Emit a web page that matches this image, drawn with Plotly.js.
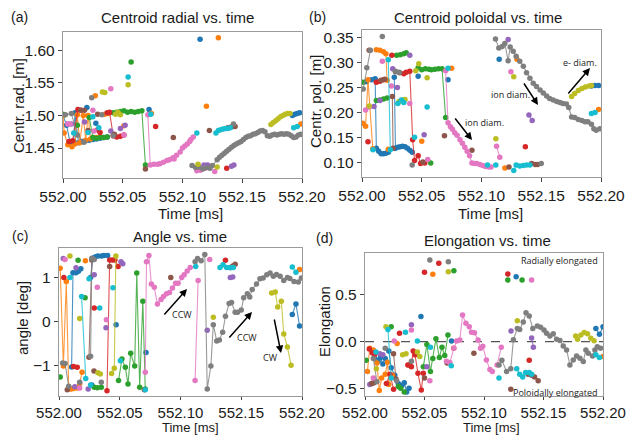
<!DOCTYPE html>
<html><head><meta charset="utf-8">
<script src="https://cdn.plot.ly/plotly-3.0.1.min.js"></script>
<style>html,body{margin:0;padding:0;background:#fff}#chart{width:634px;height:436px}</style>
</head><body><div id="chart"></div>
<script>
// ---------- Tick labels ----------
const xTickVals = [552.00, 552.05, 552.10, 552.15, 552.20];
const xTickText = ['552.00', '552.05', '552.10', '552.15', '552.20'];
const radTickVals = [1.45, 1.50, 1.55, 1.60];
const radTickText = ['1.45', '1.50', '1.55', '1.60'];
const polTickVals = [0.10, 0.15, 0.20, 0.25, 0.30, 0.35];
const polTickText = ['0.10', '0.15', '0.20', '0.25', '0.30', '0.35'];
const angTickVals = [-1, 0, 1];
const angTickText = ['\u22121', '0', '1'];
const eloTickVals = [-0.5, 0, 0.5];
const eloTickText = ['\u22120.5', '0.0', '0.5'];

// ---------- (a) Centroid radial ----------
const radBlueT = [552.000,552.003,552.006,552.009,552.010,552.013,552.016,552.019,552.022,552.025,552.028,552.031,552.034,552.037,null,552.020,null,552.0275,null,552.072,null,552.1147,null,552.192,552.194,552.196,552.198];
const radBlueV = [1.500,1.485,1.458,1.460,1.504,1.458,1.460,1.461,1.462,1.463,1.464,1.465,1.466,1.467,null,1.512,null,1.488,null,1.509,null,1.617,null,1.500,1.502,1.503,1.504];
const radOrangeT = [552.000,552.001,552.004,552.0075,552.010,552.012,552.014,552.017,552.019,552.021,552.023,552.025,552.028,552.031,null,552.027,null,552.035,552.038,null,552.051,null,552.074,null,552.120,null,552.130,null,552.199];
const radOrangeV = [1.500,1.473,1.455,1.452,1.456,1.501,1.458,1.500,1.462,1.500,1.464,1.466,1.466,1.467,null,1.530,null,1.502,1.503,null,1.484,null,1.503,null,1.514,null,1.619,null,1.487];
const radGreenT = [552.000,null,552.012,null,552.022,552.025,552.028,552.031,552.034,552.037,null,552.057,null,552.042,552.045,552.048,552.051,552.054,552.057,552.060,552.063,552.066,552.069];
const radGreenV = [1.502,null,1.485,null,1.497,1.466,1.465,1.466,1.466,1.467,null,1.582,null,1.504,1.505,1.506,1.507,1.505,1.506,1.505,1.506,1.507,1.424];
const radRedT = [552.005,552.008,552.0125,552.015,null,552.029,552.031,null,552.037,552.039,552.042,552.045,552.048,552.051,null,552.0775,null,552.137];
const radRedV = [1.460,1.461,1.509,1.508,null,1.478,1.474,null,1.504,1.505,1.469,1.467,1.468,1.470,null,1.483,null,1.419];
const radPurpleT = [552.004,552.007,null,552.018,null,552.040,null,552.048,552.052,null,552.118,552.121,null,552.141,552.143];
const radPurpleV = [1.487,1.487,null,1.490,null,1.476,null,1.480,1.485,null,1.424,1.424,null,1.422,1.424];
const radBrownT = [552.015,552.018,null,552.021,null,552.029,null,552.043,null,552.069,null,552.0923,null,552.1225,null,552.138,552.140,552.142,552.144];
const radBrownV = [1.508,1.508,null,1.477,null,1.502,null,1.471,null,1.418,null,1.466,null,1.477,null,1.481,1.482,1.483,1.483];
const radPinkT = [552.004,552.006,null,552.025,null,552.026,null,552.040,null,552.051,null,552.071,552.073,552.076,552.079,552.081,552.084,552.087,552.089,552.092,552.093,552.095,552.098,552.100,552.102,552.104,552.106,552.107,552.109,null,552.112,552.115,null,552.119,null,552.127];
const radPinkV = [1.487,1.487,null,1.508,null,1.476,null,1.541,null,1.470,null,1.501,1.424,1.425,1.425,1.426,1.428,1.431,1.432,1.435,1.433,1.439,1.444,1.450,1.453,1.456,1.460,1.463,1.467,null,1.415,1.416,null,1.419,null,1.414];
const radGrayT = [552.002,552.007,552.012,552.0175,null,552.024,null,552.0325,null,552.042,null,552.108,552.111,552.114,552.117,552.120,552.123,552.125,552.129,552.131,552.133,552.135,552.137,552.139,552.141,552.143,552.145,552.147,552.149,552.151,552.153,552.155,552.157,552.159,552.161,552.163,552.165,552.167,552.169,552.171,552.173,552.175,552.177,552.179,552.181,552.183,552.185,552.187,552.189,552.191,552.193,552.195,552.197,552.199,null,552.1427];
const radGrayV = [1.501,1.503,1.470,1.459,null,1.527,null,1.501,null,1.469,null,1.423,1.420,1.421,1.418,1.420,1.419,1.423,1.432,1.436,1.439,1.442,1.445,1.448,1.451,1.454,1.456,1.458,1.460,1.463,1.466,1.468,1.469,1.471,1.472,1.474,1.476,1.477,1.475,1.469,1.468,1.470,1.471,1.470,1.471,1.472,1.471,1.472,1.471,1.469,1.466,1.467,1.470,1.471,null,1.487];
const radOliveT = [552.033,552.035,null,552.0545,null,552.044,552.046,552.048,null,552.113,null,552.129,null,552.174,552.176,552.178,552.180,552.182,552.184,552.186,552.188,552.190];
const radOliveV = [1.536,1.535,null,1.547,null,1.502,1.505,1.501,null,1.425,null,1.421,null,1.486,1.489,1.492,1.495,1.498,1.500,1.502,1.503,1.503];
const radCyanT = [552.009,null,552.021,null,552.025,null,552.030,null,552.0545,null,552.0735,null,552.112,null,552.128,552.130,552.132,552.134,552.136,552.138,552.140,null,552.193,552.196];
const radCyanV = [1.473,null,1.474,null,1.498,null,1.481,null,1.559,null,1.502,null,1.473,null,1.473,1.477,1.478,1.479,1.480,1.480,1.481,null,1.481,1.483];

// ---------- (b) Centroid poloidal ----------
const polBlueT = [552.0036,552.008,552.011,552.012,552.014,552.016,552.018,552.020,552.022,null,552.027,552.028,552.030,552.032,552.034,552.036,552.038,552.040,552.042,null,552.047,null,552.072,null,552.1148,null,552.192,552.195,552.198];
const polBlueV = [0.262,0.266,0.268,0.128,0.122,0.117,0.117,0.118,0.120,null,0.271,0.128,0.130,0.131,0.132,0.131,0.128,0.124,0.120,null,0.273,null,0.266,null,0.307,null,0.253,0.254,0.254];
const polOrangeT = [552.0006,552.003,552.005,552.009,null,552.012,552.015,552.018,552.020,552.021,null,552.022,null,552.050,null,552.075,null,552.1196,null,552.1296,null,552.198];
const polOrangeV = [0.178,0.172,0.266,0.127,null,0.326,0.325,0.322,0.318,0.265,null,0.126,null,0.142,null,0.289,null,0.088,null,0.307,null,0.206];
const polGreenT = [552.0006,null,552.012,552.015,552.018,552.021,null,552.029,552.032,552.035,552.037,null,552.047,552.050,552.053,552.056,552.058,552.061,552.064,552.067,552.070,null,552.0575];
const polGreenV = [0.261,null,0.224,0.225,0.227,0.229,null,0.315,0.316,0.318,0.320,null,0.290,0.286,0.288,0.287,0.286,0.287,0.288,0.288,0.190,null,0.098];
const polRedT = [552.005,null,552.012,552.015,552.018,null,552.025,null,552.035,552.037,552.040,552.0424,552.044,552.047,552.049,552.0525,null,552.1367];
const polRedV = [0.141,null,0.261,0.263,0.266,null,0.315,null,0.278,0.281,0.283,0.145,0.103,0.113,0.097,0.098,null,0.131];
const polPurpleT = [552.010,null,552.015,null,552.0257,null,552.0296,null,552.040,null,552.052,null,552.1223,null,552.1397,552.1424];
const polPurpleV = [0.212,null,0.224,null,0.288,null,0.250,null,0.315,null,0.155,null,0.347,null,0.195,0.184];
const polBrownT = [552.006,null,552.016,552.019,null,552.0254,552.026,null,552.028,552.0316,null,552.051,null,552.069,null,552.092,null,552.123,null,552.142,552.145,552.147];
const polBrownV = [0.325,null,0.265,0.267,null,0.232,0.128,null,0.282,0.280,null,0.100,null,0.153,null,0.124,null,0.090,null,0.097,0.095,0.095];
const polPinkT = [552.003,552.006,null,552.017,null,552.0246,null,552.040,null,552.055,null,552.070,552.072,552.074,552.0757,552.0776,552.0796,552.082,552.084,552.086,552.088,552.090,552.092,552.094,552.096,552.0986,552.101,552.1033,552.106,552.108,null,552.1126,552.1153,null,552.1246];
const polPinkV = [0.205,0.211,null,0.303,null,0.253,null,0.218,null,0.105,null,0.284,0.179,0.171,0.166,0.159,0.154,0.145,0.138,0.130,0.122,0.113,0.098,0.097,0.097,0.095,0.093,0.091,0.090,0.090,null,0.132,0.110,null,0.282];
const polGrayT = [552.001,552.004,552.007,null,552.017,null,552.028,552.031,null,552.042,null,552.1117,552.1145,552.1173,552.1195,552.1223,552.124,552.1265,552.129,552.132,552.135,552.1377,552.1405,552.1433,552.146,552.149,552.1517,552.1545,552.157,552.160,552.163,552.1656,552.168,552.171,552.173,552.1754,552.178,552.181,552.184,552.1866,552.189,552.192,552.194,552.196,552.199,null,552.150];
const polGrayV = [0.247,0.290,0.325,null,0.353,null,0.283,0.281,null,0.094,null,0.348,0.330,0.333,0.339,0.304,0.332,0.323,0.313,0.303,0.293,0.280,0.269,0.259,0.252,0.245,0.239,0.233,0.228,0.225,0.222,0.220,0.218,0.217,0.210,0.191,0.190,0.186,0.184,0.181,0.181,0.176,0.167,0.164,0.167,null,0.097];
const polOliveT = [552.006,null,552.031,552.034,552.036,null,552.045,null,552.0475,null,552.0545,null,552.112,null,552.127,null,552.1754,552.178,552.181,552.184,552.187,552.190,552.192];
const polOliveV = [0.213,null,0.222,0.225,0.226,null,0.284,null,0.298,null,0.270,null,0.147,null,0.272,null,0.232,0.238,0.244,0.248,0.251,0.253,0.254];
const polCyanT = [552.0092,null,552.022,552.0237,null,552.030,552.033,552.035,null,552.044,null,552.0545,null,552.072,null,552.105,null,552.112,null,552.127,552.129,552.132,552.135,552.1377,552.1405,null,552.192,552.195];
const polCyanV = [0.125,null,0.306,0.125,null,0.218,0.225,0.220,null,0.150,null,0.211,null,0.289,null,0.094,null,0.094,null,0.083,0.094,0.092,0.093,0.094,0.094,null,0.198,0.200];

// ---------- (c) Angle ----------
const angBlueT = [552.0104,552.0115,552.014,552.016,552.018,null,552.026,552.028,552.030,552.032,552.035,552.037,552.040,null,552.027,null,552.047,null,552.0716,null,552.192,552.195,552.198];
const angBlueV = [-1.04,1.10,1.10,1.13,1.19,null,0.99,1.43,1.46,1.48,1.48,1.49,1.49,null,-1.45,null,-0.08,null,-0.71,null,0.15,0.39,-0.11];
const angOrangeT = [552.001,552.0036,552.006,552.008,552.010,552.012,552.015,552.017,552.019,null,552.0217,null,552.198];
const angOrangeV = [1.20,-1.02,0.90,-1.54,-1.54,-1.53,-1.52,-1.42,-1.16,null,1.37,null,1.17];
const angGreenT = [552.001,null,552.0157,null,552.0215,null,552.029,552.0315,552.0348,null,552.049,552.0518,552.0546,552.0568,552.059,552.0623,552.064,552.0664,552.069,552.071];
const angGreenV = [-1.27,null,1.38,null,0.53,null,-1.50,-1.51,-1.50,null,-1.35,-0.86,-1.05,-1.43,-0.73,-1.02,1.09,-1.50,0.45,-1.54];
const angRedT = [552.004,null,552.012,552.015,null,552.029,null,552.0395,552.0417,552.044,552.046,552.0486,null,552.137];
const angRedV = [0.99,null,-1.03,-1.05,null,0.30,null,-1.58,1.39,1.39,1.39,1.24,null,1.38];
const angPurpleT = [552.0035,null,552.014,null,552.013,null,552.024,null,552.029,null,552.0387,null,552.051,552.0525,null,552.122,null,552.141,552.143];
const angPurpleV = [1.42,null,1.21,null,-1.49,null,-1.54,null,1.05,null,-0.15,null,1.35,1.30,null,-0.21,null,0.99,1.00];
const angBrownT = [552.0068,null,552.0247,552.027,null,552.0288,null,552.0417,null,552.0703,null,552.092,null,552.141,552.143,552.145];
const angBrownV = [-1.56,null,-0.82,1.39,null,-1.13,null,1.24,null,-1.56,null,0.99,null,1.22,1.25,1.29];
const angPinkT = [552.005,null,552.017,null,552.0315,null,552.039,null,552.071,552.072,552.074,552.076,552.0784,552.081,552.084,552.086,552.0885,552.091,552.0934,552.096,552.098,552.101,552.103,552.1055,552.108,null,552.112,552.1145,null,552.124];
const angPinkV = [1.40,null,-1.52,null,0.77,null,0.03,null,-1.16,1.35,1.49,0.84,0.77,0.39,0.49,0.56,0.62,0.65,0.75,0.86,0.86,0.99,1.05,1.14,1.22,null,-1.35,0.92,null,1.40];
const angGrayT = [552.003,552.005,552.008,null,552.017,null,552.026,552.027,552.029,null,552.0348,null,552.112,552.114,552.117,552.120,552.122,552.125,552.127,552.1298,552.132,552.1347,552.137,552.140,552.142,552.145,552.147,552.150,552.152,552.155,552.157,552.159,552.1625,552.1654,552.168,552.171,552.1737,552.1764,552.179,552.182,552.185,552.188,552.190,552.1934,552.197,552.1995];
const angGrayV = [-0.95,-0.96,-1.48,null,-1.39,null,-0.80,1.43,1.40,null,-1.39,null,1.35,1.42,1.37,1.51,-1.54,-1.02,-0.08,-0.45,-0.43,-0.25,0.11,0.40,0.42,0.20,0.20,0.25,0.53,0.62,0.55,0.72,0.84,0.96,0.98,1.05,1.09,1.02,1.06,1.02,0.92,0.99,0.97,0.90,0.89,0.98];
const angOliveT = [552.009,null,552.017,null,552.032,552.034,null,552.0433,552.0455,552.0468,null,552.127,null,552.175,552.178,552.180,552.183,552.185,552.188,552.191];
const angOliveV = [1.48,null,0.06,null,-1.17,-1.20,null,-1.19,-1.07,1.48,null,0.09,null,0.64,0.66,0.32,0.45,-0.29,-0.59,-1.00];
const angCyanT = [552.009,null,552.0186,552.022,null,552.0247,null,552.026,null,552.0335,null,552.0444,null,552.0505,null,552.071,null,552.1125,null,552.1325,552.135,552.138,552.141,552.1435,null,552.192,552.195];
const angCyanV = [0.99,null,0.56,-1.30,null,0.96,null,-1.45,null,0.30,null,0.76,null,-0.90,null,-1.56,null,1.24,null,1.22,1.28,1.22,1.21,1.22,null,1.23,1.11];

// ---------- (d) Elongation ----------
const eloBlueT = [552.008,552.010,552.011,552.013,552.015,552.017,null,552.020,552.022,552.025,552.028,552.031,552.033,552.035,552.037,null,552.047,null,552.0727,null,552.127,null,552.194,552.197,552.200];
const eloBlueV = [-0.18,-0.20,-0.21,-0.17,-0.24,-0.18,null,-0.10,-0.28,-0.36,-0.45,-0.47,-0.44,-0.54,-0.50,null,0.268,null,0.007,null,0.696,null,0.14,0.08,0.16];
const eloOrangeT = [552.002,552.004,552.007,552.010,552.012,552.014,552.017,552.019,552.020,552.023,null,552.027,null,552.057,null,552.0745,null,552.200];
const eloOrangeV = [-0.32,-0.07,-0.09,-0.23,-0.525,-0.39,-0.35,-0.22,-0.46,-0.36,null,-0.02,null,0.721,null,-0.07,null,-0.16];
const eloGreenT = [552.001,null,552.022,null,552.028,552.030,552.033,null,552.037,null,552.049,552.052,552.055,552.057,552.0596,552.0625,552.0647,552.067,552.0697,null,552.0747,null,552.120,null,552.132];
const eloGreenV = [-0.20,null,0.16,null,-0.48,-0.50,-0.54,null,-0.25,null,-0.27,-0.03,-0.32,-0.18,0.03,-0.17,-0.06,-0.15,0.07,null,0.761,null,0.66,null,0.66];
const eloRedT = [552.0036,552.006,552.008,null,552.018,552.021,552.024,null,552.029,null,552.036,552.039,552.0405,552.042,552.0445,552.0473,552.049,null,552.050,null,552.062,null,552.120,null,552.138];
const eloRedV = [-0.08,-0.12,-0.14,null,-0.45,-0.35,-0.51,null,0.09,null,-0.25,-0.27,-0.10,-0.14,-0.34,-0.52,-0.34,null,0.743,null,0.839,null,0.725,null,-0.20];
const eloPurpleT = [552.004,552.006,null,552.0125,552.015,null,552.039,null,552.052,null,552.1227,null,552.140,552.1415];
const eloPurpleV = [-0.46,-0.45,null,-0.13,-0.14,null,0.18,null,-0.27,null,0.115,null,0.04,-0.06];
const eloBrownT = [552.0056,552.0075,null,552.024,552.026,null,552.050,null,552.069,null,552.0915,null,552.1225,null,552.137,552.140,552.1425,552.1455];
const eloBrownV = [-0.45,-0.44,null,-0.13,-0.40,null,-0.39,null,-0.23,null,-0.125,null,-0.51,null,-0.35,-0.36,-0.38,-0.42];
const eloPinkT = [552.007,null,552.0246,null,552.039,null,552.0545,null,552.0685,552.0713,552.0747,552.077,552.0797,552.082,552.0848,552.0876,552.0895,552.092,552.095,552.097,552.099,552.102,552.105,552.107,null,552.111,552.1145,null,552.140];
const eloPinkV = [-0.39,null,0.007,null,0.125,null,-0.42,null,-0.21,-0.225,-0.07,0.007,0.018,0.286,0.196,0.16,0.10,0.096,0.018,-0.07,-0.05,-0.196,-0.30,-0.32,null,-0.25,-0.06,null,0.66];
const eloGrayT = [552.007,552.010,null,552.017,null,552.0266,null,552.039,null,552.0545,null,552.070,null,552.1126,552.115,552.119,552.1225,552.1247,552.128,552.130,552.133,552.1353,552.138,552.141,552.1448,552.1476,552.1504,552.1526,552.1554,552.1582,552.161,552.1638,552.1666,552.1694,552.1722,552.175,552.1778,552.1806,552.1834,552.1856,552.1876,552.1912,552.1932,552.1952,552.198];
const eloGrayV = [-0.18,-0.43,null,-0.07,null,-0.42,null,-0.21,null,0.875,null,0.857,null,-0.25,-0.20,-0.32,-0.29,0.02,0.14,0.13,0.21,0.31,0.275,0.14,0.168,0.154,0.125,0.09,0.061,0.083,0.025,0.011,-0.046,-0.089,-0.25,-0.196,-0.153,-0.178,-0.214,-0.089,-0.125,-0.153,-0.089,-0.054,-0.07];
const eloOliveT = [552.0095,null,552.0176,null,552.0316,552.0345,null,552.044,552.046,null,552.070,null,552.128,null,552.177,552.1786,552.1814,552.1842,552.187,552.1898,552.1925];
const eloOliveV = [-0.29,null,0.16,null,-0.14,-0.13,null,-0.11,-0.16,null,0.75,null,0.225,null,0.061,0.025,0.072,0.097,0.083,0.036,0.01];
const eloCyanT = [552.0092,null,552.0193,552.022,null,552.034,null,552.044,null,552.055,null,552.0725,null,552.1126,null,552.1275,552.130,552.1325,552.135,552.138,552.140,null,552.194,552.197];
const eloCyanV = [-0.11,null,0.13,-0.39,null,0.10,null,0.007,null,-0.06,null,-0.26,null,-0.39,null,-0.29,-0.35,-0.38,-0.33,-0.33,-0.35,null,-0.14,-0.17];

// ---------- styling ----------
const COL = {blue:'#1f77b4', orange:'#ff7f0e', green:'#2ca02c', red:'#d62728', purple:'#9467bd',
             brown:'#8c564b', pink:'#e377c2', gray:'#7f7f7f', olive:'#bcbd22', cyan:'#17becf'};
function rgba(hex, a){const n=parseInt(hex.slice(1),16);return 'rgba('+((n>>16)&255)+','+((n>>8)&255)+','+(n&255)+','+a+')';}
function tr(t, v, c, ax){
  return {type:'scatter', mode:'lines+markers', x:t, y:v, xaxis:'x'+ax, yaxis:'y'+ax,
    marker:{color:COL[c], size:5.5, line:{width:0}}, line:{color:rgba(COL[c],0.8), width:1.1},
    connectgaps:false, showlegend:false, hoverinfo:'skip'};
}
const traces = [
  tr(radBlueT,radBlueV,'blue',''), tr(radOrangeT,radOrangeV,'orange',''), tr(radGreenT,radGreenV,'green',''),
  tr(radRedT,radRedV,'red',''), tr(radPurpleT,radPurpleV,'purple',''), tr(radBrownT,radBrownV,'brown',''),
  tr(radPinkT,radPinkV,'pink',''), tr(radGrayT,radGrayV,'gray',''), tr(radOliveT,radOliveV,'olive',''),
  tr(radCyanT,radCyanV,'cyan',''),
  tr(polBlueT,polBlueV,'blue','2'), tr(polOrangeT,polOrangeV,'orange','2'), tr(polGreenT,polGreenV,'green','2'),
  tr(polRedT,polRedV,'red','2'), tr(polPurpleT,polPurpleV,'purple','2'), tr(polBrownT,polBrownV,'brown','2'),
  tr(polPinkT,polPinkV,'pink','2'), tr(polGrayT,polGrayV,'gray','2'), tr(polOliveT,polOliveV,'olive','2'),
  tr(polCyanT,polCyanV,'cyan','2'),
  tr(angBlueT,angBlueV,'blue','3'), tr(angOrangeT,angOrangeV,'orange','3'), tr(angGreenT,angGreenV,'green','3'),
  tr(angRedT,angRedV,'red','3'), tr(angPurpleT,angPurpleV,'purple','3'), tr(angBrownT,angBrownV,'brown','3'),
  tr(angPinkT,angPinkV,'pink','3'), tr(angGrayT,angGrayV,'gray','3'), tr(angOliveT,angOliveV,'olive','3'),
  tr(angCyanT,angCyanV,'cyan','3'),
  tr(eloBlueT,eloBlueV,'blue','4'), tr(eloOrangeT,eloOrangeV,'orange','4'), tr(eloGreenT,eloGreenV,'green','4'),
  tr(eloRedT,eloRedV,'red','4'), tr(eloPurpleT,eloPurpleV,'purple','4'), tr(eloBrownT,eloBrownV,'brown','4'),
  tr(eloPinkT,eloPinkV,'pink','4'), tr(eloGrayT,eloGrayV,'gray','4'), tr(eloOliveT,eloOliveV,'olive','4'),
  tr(eloCyanT,eloCyanV,'cyan','4')
];

const FONT = 'Liberation Sans, Arial, Helvetica, sans-serif';
const NOTE = 'Open Sans, sans-serif';
const W = 634, H = 436;
const px = v => v / W, py = v => 1 - v / H;
const axBase = {showgrid:false, zeroline:false, showline:true, mirror:true, linecolor:'#9a9a9a', linewidth:1.2,
  ticks:'outside', ticklen:4, tickwidth:1, tickcolor:'#444', tickfont:{family:FONT, size:15.5, color:'#1a1a1a'}, fixedrange:true};
function xa(dom, anchor, extra){return Object.assign({}, axBase, {domain:dom, anchor:anchor, range:[552.0,552.2], tickmode:'array', tickvals:xTickVals, ticktext:xTickText}, extra||{});}
function ya(dom, anchor, rng, tv, tt){return Object.assign({}, axBase, {domain:dom, anchor:anchor, range:rng, tickmode:'array', tickvals:tv, ticktext:tt});}
const lowX = {ticklen:3, tickfont:{family:FONT, size:15, color:'#1a1a1a'}};

function txt(text, x, y, size, opts){
  return Object.assign({text:text, x:px(x), y:py(y), xref:'paper', yref:'paper', showarrow:false,
    font:{family:FONT, size:size, color:'#1a1a1a'}, xanchor:'center', yanchor:'middle'}, opts||{});
}
function arrow(hx, hy, tx, ty){
  return {text:'', x:px(hx), y:py(hy), xref:'paper', yref:'paper', showarrow:true, ax:tx-hx, ay:ty-hy,
    arrowhead:2, arrowsize:1, arrowwidth:1.5, arrowcolor:'#000'};
}
const annotations = [
  txt('(a)', 19, 17, 14), txt('Centroid radial vs. time', 178, 18, 15),
  txt('(b)', 317, 17, 14), txt('Centroid poloidal vs. time', 478, 18, 15),
  txt('(c)', 20, 236, 14), txt('Angle vs. time', 180, 236, 15),
  txt('(d)', 324, 238, 14), txt('Elongation vs. time', 487, 240, 15),
  txt('Time [ms]', 190, 213, 15), txt('Time [ms]', 490, 213, 15),
  txt('Time [ms]', 190, 427.5, 13), txt('Time [ms]', 492, 427.5, 13),
  txt('Centr. rad. [m]', 18, 106, 15, {textangle:-90}),
  txt('Centr. pol. [m]', 315, 102, 15, {textangle:-90}),
  txt('angle [deg]', 22, 318, 15, {textangle:-90}),
  txt('Elongation', 324, 322, 15, {textangle:-90}),
  txt('ion diam.', 463, 123, 9, {xanchor:'left', font:{family:NOTE, size:9, color:'#222'}}),
  txt('ion diam.', 510, 94, 9, {font:{family:NOTE, size:9, color:'#222'}}),
  txt('e- diam.', 580, 62, 9, {font:{family:NOTE, size:9, color:'#222'}}),
  txt('CCW', 182, 314, 9, {font:{family:NOTE, size:9, color:'#222'}}),
  txt('CCW', 247, 337, 9, {font:{family:NOTE, size:9, color:'#222'}}),
  txt('CW', 270, 357, 9, {font:{family:NOTE, size:9, color:'#222'}}),
  txt('Radially elongated', 600, 260, 9, {xanchor:'right', font:{family:NOTE, size:9, color:'#222'}}),
  txt('Poloidally elongated', 600, 392, 9, {xanchor:'right', font:{family:NOTE, size:9, color:'#222'}}),
  arrow(472, 140, 454, 117), arrow(538, 105, 523, 82), arrow(590, 68, 567, 95),
  arrow(187, 289, 163, 316), arrow(252, 312, 228, 339), arrow(281, 353, 274, 318)
];

const layout = {
  width:W, height:H, margin:{l:0, r:0, t:0, b:0}, paper_bgcolor:'#fff', plot_bgcolor:'#fff', showlegend:false,
  xaxis:  xa([px(63), px(302)], 'y'),
  yaxis:  ya([py(178), py(32)], 'x', [1.404, 1.628], radTickVals, radTickText),
  xaxis2: xa([px(362), px(601)], 'y2'),
  yaxis2: ya([py(177), py(30)], 'x2', [0.070, 0.366], polTickVals, polTickText),
  xaxis3: xa([px(59), px(302)], 'y3', lowX),
  yaxis3: ya([py(396), py(248)], 'x3', [-1.70, 1.66], angTickVals, angTickText),
  xaxis4: xa([px(365), px(603)], 'y4', lowX),
  yaxis4: ya([py(396), py(253)], 'x4', [-0.583, 0.95], eloTickVals, eloTickText),
  shapes: [{type:'line', xref:'x4 domain', yref:'y4', x0:0, x1:1, y0:0, y1:0, line:{color:'#555', width:1.2, dash:'dash'}, layer:'below'}],
  annotations: annotations
};
Plotly.newPlot('chart', traces, layout, {staticPlot:true, displayModeBar:false});
</script></body></html>
